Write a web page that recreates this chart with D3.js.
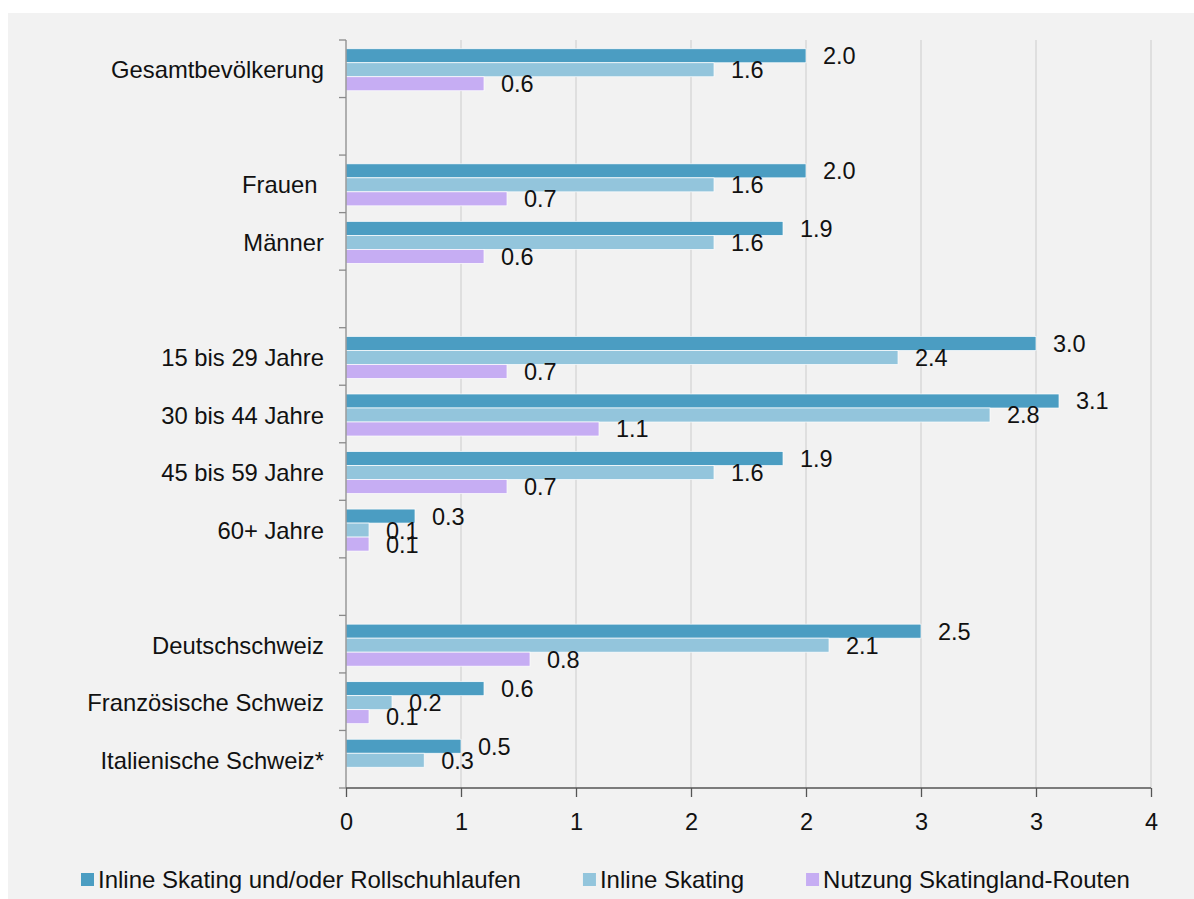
<!DOCTYPE html>
<html>
<head>
<meta charset="utf-8">
<script src="https://cdn.jsdelivr.net/npm/d3@7"></script>
<style>
  html, body { margin: 0; padding: 0; background: #fff; }
  svg { display: block; font-family: "Liberation Sans", Arial, sans-serif; }
</style>
</head>
<body>
<svg width="1194" height="899"></svg>
<script>
// categories, empty strings are the spacer rows between groups
const categories = ["Gesamtbevölkerung", "", "Frauen\u00a0", "Männer", "",
    "15 bis 29 Jahre", "30 bis 44 Jahre", "45 bis 59 Jahre", "60+ Jahre", "",
    "Deutschschweiz", "Französische Schweiz", "Italienische Schweiz*"];

const seriesNames = ["Inline Skating und/oder Rollschuhlaufen", "Inline Skating", "Nutzung Skatingland-Routen"];
const seriesColors = ["#4b9dc2", "#93c5dc", "#c6adf3"];

const inlineRoll  = [2.0, null, 2.0, 1.9, null, 3.0, 3.1, 1.9, 0.3, null, 2.5, 0.6, 0.5];
const inlineOnly  = [1.6, null, 1.6, 1.6, null, 2.4, 2.8, 1.6, 0.1, null, 2.1, 0.2, 0.34];
const skatingland = [0.6, null, 0.7, 0.6, null, 0.7, 1.1, 0.7, 0.1, null, 0.8, 0.1, null];

const xTicks = [0, 0.5, 1, 1.5, 2, 2.5, 3, 3.5];

const series = [inlineRoll, inlineOnly, skatingland];

const svg = d3.select("svg"),
    width = +svg.attr("width"),
    height = +svg.attr("height");

// grey panel
svg.append("rect")
    .attr("x", 8).attr("y", 13)
    .attr("width", width - 8).attr("height", height - 13)
    .attr("fill", "#f2f2f2");

const plot = { left: 346, right: 1151, top: 40, bottom: 788 };

const x = d3.scaleLinear()
    .domain([0, 3.5])
    .range([plot.left, plot.right]);

const y = d3.scaleBand()
    .domain(d3.range(categories.length))
    .range([plot.top, plot.bottom]);

const groupH = y.bandwidth() * 0.73,
    barH = groupH / 3;

// gridlines
svg.append("g")
    .selectAll("line")
    .data(xTicks.slice(1))
    .enter().append("line")
    .attr("x1", d => x(d)).attr("x2", d => x(d))
    .attr("y1", plot.top).attr("y2", plot.bottom)
    .attr("stroke", "#d2d2d2")
    .attr("stroke-width", 1.2);

// bars
series.forEach((vals, si) => {
    const rows = vals.map((v, i) => ({ i: i, v: v })).filter(d => d.v != null);
    const g = svg.append("g").attr("class", "series-" + si);

    g.selectAll("rect")
        .data(rows)
        .enter().append("rect")
        .attr("x", x(0))
        .attr("y", d => y(d.i) + (y.bandwidth() - groupH) / 2 + 1 + si * barH)
        .attr("width", d => x(d.v) - x(0))
        .attr("height", barH)
        .attr("fill", seriesColors[si])
        .attr("stroke", "#fff")
        .attr("stroke-width", 0.7);

    g.selectAll("text")
        .data(rows)
        .enter().append("text")
        .attr("x", d => x(d.v) + 17)
        .attr("y", d => y(d.i) + (y.bandwidth() - groupH) / 2 + 1 + si * barH + barH / 2)
        .attr("dy", "0.36em")
        .attr("font-size", 23.5)
        .attr("fill", "#111")
        .text(d => d.v.toFixed(1));
});

// y axis
const yAxis = svg.append("g");
yAxis.append("line")
    .attr("x1", plot.left).attr("x2", plot.left)
    .attr("y1", plot.top).attr("y2", plot.bottom)
    .attr("stroke", "#8a8a8a").attr("stroke-width", 1.3);
yAxis.selectAll("line.tick")
    .data(d3.range(categories.length + 1))
    .enter().append("line")
    .attr("class", "tick")
    .attr("x1", plot.left - 7).attr("x2", plot.left)
    .attr("y1", d => plot.top + d * y.step())
    .attr("y2", d => plot.top + d * y.step())
    .attr("stroke", "#8a8a8a").attr("stroke-width", 1.3);
yAxis.selectAll("text")
    .data(categories)
    .enter().append("text")
    .attr("x", 324)
    .attr("y", (d, i) => y(i) + y.bandwidth() / 2 + 1)
    .attr("dy", "0.36em")
    .attr("text-anchor", "end")
    .attr("font-size", 23.8)
    .attr("fill", "#111")
    .text(d => d);

// x axis
const xAxis = svg.append("g")
    .attr("transform", `translate(0,${plot.bottom})`)
    .call(d3.axisBottom(x)
        .tickValues(xTicks)
        .tickSize(9)
        .tickPadding(16)
        .tickFormat(d => Math.round(d)));
xAxis.select(".domain")
    .attr("d", `M${plot.left},0H${plot.right}`)
    .attr("stroke", "#555").attr("stroke-width", 1.3);
xAxis.selectAll(".tick line").attr("stroke", "#555").attr("stroke-width", 1.3);
xAxis.selectAll(".tick text")
    .attr("font-size", 23.5)
    .attr("font-family", "Liberation Sans, Arial, sans-serif")
    .attr("fill", "#111");

// legend
const legend = svg.append("g");
let lx = 81;
seriesNames.forEach((name, si) => {
    legend.append("rect")
        .attr("x", lx).attr("y", 873)
        .attr("width", 13).attr("height", 13)
        .attr("fill", seriesColors[si]);
    const t = legend.append("text")
        .attr("x", lx + 17).attr("y", 879)
        .attr("dy", "0.36em")
        .attr("font-size", 24)
        .attr("fill", "#111")
        .text(name);
    lx += 17 + t.node().getComputedTextLength() + 62;
});
</script>
</body>
</html>
